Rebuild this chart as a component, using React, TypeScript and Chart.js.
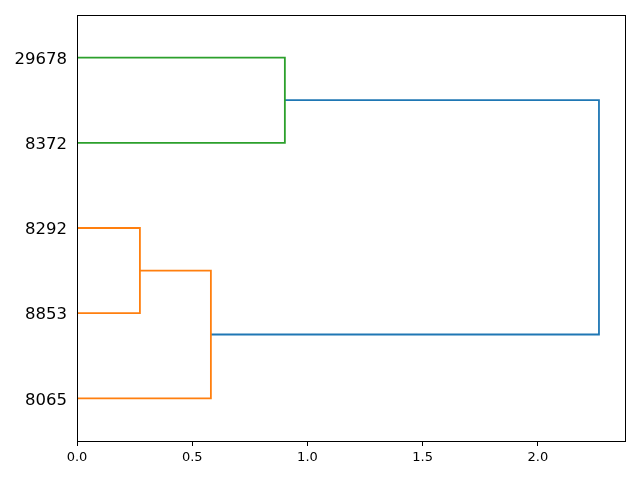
import React, { useEffect, useRef } from "react";
import { Chart, registerables } from "chart.js";

Chart.register(...registerables);

const leafLabels = ["8065", "8853", "8292", "8372", "29678"];
const leafPositions = [5, 15, 25, 35, 45];
// link coordinates (scipy style): icoord along leaf axis, dcoord = distance
const linkLeafCoords = [
  [15, 15, 25, 25],
  [5, 5, 20, 20],
  [35, 35, 45, 45],
  [12.5, 12.5, 40, 40],
];
const linkDistances = [
  [0, 0.273, 0.273, 0],
  [0, 0.581, 0.581, 0.273],
  [0, 0.902, 0.902, 0],
  [0.581, 2.265, 2.265, 0.902],
];
const linkColors = ["#ff7f0e", "#ff7f0e", "#2ca02c", "#1f77b4"];
const xTicks = [0, 0.5, 1.0, 1.5, 2.0];
const xMax = 2.378;
const yMax = 50;

const boxPlugin = {
  id: "boxPlugin",
  afterDraw(chart: any) {
    const { ctx, chartArea } = chart;
    ctx.save();
    ctx.strokeStyle = "#000";
    ctx.lineWidth = 1;
    ctx.strokeRect(
      Math.round(chartArea.left) + 0.5,
      Math.round(chartArea.top) + 0.5,
      Math.round(chartArea.right - chartArea.left),
      Math.round(chartArea.bottom - chartArea.top)
    );
    ctx.restore();
  },
};

export default function App() {
  const ref = useRef<HTMLCanvasElement>(null);
  useEffect(() => {
    if (!ref.current) return;
    const datasets = linkLeafCoords.map((ic, i) => ({
      data: ic.map((y, j) => ({ x: linkDistances[i][j], y })),
      showLine: true,
      borderColor: linkColors[i],
      borderWidth: 1.8,
      pointRadius: 0,
      fill: false,
      tension: 0,
    }));
    const chart = new Chart(ref.current, {
      type: "scatter",
      data: { datasets },
      plugins: [boxPlugin],
      options: {
        animation: false,
        responsive: false,
        devicePixelRatio: 1,
        layout: { padding: { left: 0, right: 15, top: 15, bottom: 0 } },
        plugins: { legend: { display: false }, tooltip: { enabled: false } },
        scales: {
          x: {
            type: "linear",
            min: 0,
            max: xMax,
            afterBuildTicks: (axis: any) => {
              axis.ticks = xTicks.map((v) => ({ value: v }));
            },
            afterFit: (axis: any) => {
              axis.height = 39;
              axis.paddingLeft = 0;
              axis.paddingRight = 0;
            },
            ticks: {
              color: "#000",
              font: { family: "DejaVu Sans", size: 13 },
              padding: 4,
              maxRotation: 0,
              callback: (v: any) => Number(v).toFixed(1),
            },
            grid: {
              drawOnChartArea: false,
              drawTicks: true,
              tickLength: 5,
              color: "#000",
            },
            border: { display: true, color: "#000" },
          },
          y: {
            type: "linear",
            min: 0,
            max: yMax,
            afterBuildTicks: (axis: any) => {
              axis.ticks = leafPositions.map((v) => ({ value: v }));
            },
            afterFit: (axis: any) => {
              axis.width = 77;
              axis.paddingTop = 0;
              axis.paddingBottom = 0;
            },
            ticks: {
              color: "#000",
              font: { family: "DejaVu Sans", size: 16.5 },
              padding: 10,
              labelOffset: 2,
              callback: (v: any) => {
                const idx = leafPositions.indexOf(Number(v));
                return idx >= 0 ? leafLabels[idx] : "";
              },
            },
            grid: { drawOnChartArea: false, drawTicks: false },
            border: { display: true, color: "#000" },
          },
        },
      },
    });
    return () => chart.destroy();
  }, []);
  return (
    <div style={{ position: "fixed", left: 0, top: 0, width: 640, height: 480, background: "#fff" }}>
      <canvas ref={ref} width={640} height={480} style={{ width: 640, height: 480 }} />
    </div>
  );
}
